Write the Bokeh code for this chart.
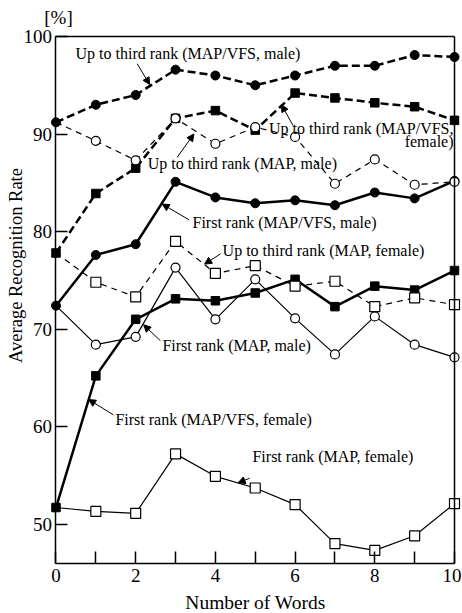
import math
from bokeh.plotting import figure
from bokeh.models import Range1d, FixedTicker, Label, Arrow, NormalHead, LinearAxis
from bokeh.embed import file_html
from bokeh.resources import INLINE

# ---- data ----
words = [0, 1, 2, 3, 4, 5, 6, 7, 8, 9, 10]
third_vfs_male = [91.2, 93.0, 94.0, 96.6, 96.0, 95.0, 96.0, 97.0, 97.0, 98.1, 97.9]
third_vfs_female = [77.8, 83.9, 86.5, 91.6, 92.4, 90.4, 94.2, 93.7, 93.2, 92.8, 91.4]
third_map_male = [91.2, 89.3, 87.3, 91.6, 89.0, 90.7, 89.7, 84.9, 87.4, 84.8, 85.1]
first_vfs_male = [72.4, 77.6, 78.7, 85.1, 83.5, 82.9, 83.2, 82.7, 84.0, 83.4, 85.2]
third_map_female = [77.8, 74.8, 73.3, 79.0, 75.7, 76.5, 74.4, 74.9, 72.3, 73.2, 72.5]
first_map_male = [72.4, 68.4, 69.2, 76.3, 71.0, 75.1, 71.1, 67.4, 71.3, 68.4, 67.1]
first_vfs_female = [51.7, 65.2, 71.0, 73.1, 72.9, 73.7, 75.1, 72.3, 74.4, 74.0, 76.0]
first_map_female = [51.7, 51.3, 51.1, 57.2, 54.9, 53.7, 52.0, 48.0, 47.3, 48.8, 52.1]

x_ticks = [0, 1, 2, 3, 4, 5, 6, 7, 8, 9, 10]
y_ticks = [50, 60, 70, 80, 90, 100]
X_MIN, X_MAX = 0, 10
Y_MIN, Y_MAX = 46, 100

FONT = "Liberation Serif"

# frame covers the whole canvas so that edge markers and outer texts are not clipped
p = figure(frame_width=461, frame_height=612, min_border=0,
           x_range=Range1d(-1.3927, 10.1757), y_range=Range1d(40.935, 103.6916),
           x_axis_location=None, y_axis_location=None,
           output_backend="svg", toolbar_location=None, background_fill_color="white")
p.grid.visible = False
p.outline_line_color = None


def style(ax):
    ax.axis_line_width = 1.5
    ax.axis_line_color = "black"
    ax.major_tick_line_width = 1.5
    ax.major_tick_line_color = "black"
    ax.major_tick_in = 12
    ax.major_tick_out = 0
    ax.minor_tick_in = 0
    ax.minor_tick_out = 0
    ax.major_label_text_font = FONT
    ax.major_label_text_font_size = "19px"
    ax.major_label_text_color = "black"


xax = LinearAxis(fixed_location=Y_MIN, bounds=(X_MIN, X_MAX), ticker=FixedTicker(ticks=x_ticks))
style(xax)
xax.major_label_overrides = {t: ("" if t % 2 else str(t)) for t in x_ticks}
xax.major_label_standoff = 6
p.add_layout(xax, "below")

yax = LinearAxis(fixed_location=X_MIN, bounds=(Y_MIN, Y_MAX), ticker=FixedTicker(ticks=y_ticks))
style(yax)
yax.major_label_standoff = 4
p.add_layout(yax, "left")

# top and right frame lines
tax = LinearAxis(fixed_location=Y_MAX, bounds=(X_MIN, X_MAX), ticker=FixedTicker(ticks=[]))
style(tax)
tax.major_tick_in = 0
p.add_layout(tax, "above")
rax = LinearAxis(fixed_location=X_MAX, bounds=(Y_MIN, Y_MAX), ticker=FixedTicker(ticks=[]))
style(rax)
rax.major_tick_in = 0
p.add_layout(rax, "right")

THICK = 2.5
THIN = 1.2

# lines
p.line(words, third_vfs_male, line_width=THICK, line_dash="8 4", color="black")
p.line(words, third_vfs_female, line_width=THICK, line_dash="8 4", color="black")
p.line(words, first_vfs_male, line_width=THICK, color="black")
p.line(words, first_vfs_female, line_width=THICK, color="black")
p.line(words, third_map_male, line_width=THIN, line_dash="6 5", color="black")
p.line(words, third_map_female, line_width=THIN, line_dash="6 5", color="black")
p.line(words, first_map_male, line_width=THIN, color="black")
p.line(words, first_map_female, line_width=THIN, color="black")

# filled markers
p.scatter(words, third_vfs_male, marker="circle", size=9, color="black")
p.scatter(words, first_vfs_male, marker="circle", size=9, color="black")
p.scatter(words, third_vfs_female, marker="square", size=8.5, color="black")
p.scatter(words, first_vfs_female, marker="square", size=8.5, color="black")

# open markers (x=0 is shared with the filled series)
p.scatter(words[1:], third_map_male[1:], marker="circle", size=9, fill_color="white",
          line_color="black", line_width=THIN)
p.scatter(words[1:], first_map_male[1:], marker="circle", size=9, fill_color="white",
          line_color="black", line_width=THIN)
p.scatter(words[1:], third_map_female[1:], marker="square", size=10, fill_color="white",
          line_color="black", line_width=THIN)
p.scatter(words[1:], first_map_female[1:], marker="square", size=10, fill_color="white",
          line_color="black", line_width=THIN)


def lab(text, x, y, align="left", size="16px", angle=0.0):
    p.add_layout(Label(x=x, y=y, text=text, text_font=FONT, text_font_size=size,
                       text_align=align, text_baseline="middle", text_color="black",
                       angle=angle))


def arr(x0, y0, x1, y1):
    p.add_layout(Arrow(end=NormalHead(size=7, fill_color="black", line_color="black", line_width=1),
                       x_start=x0, y_start=y0, x_end=x1, y_end=y1,
                       line_width=1, line_color="black"))


lab("Up to third rank (MAP/VFS, male)", 0.49, 98.25)
arr(2.04, 97.2, 2.35, 95.07)
lab("Up to third rank (MAP/VFS,", 9.975, 90.6, align="right")
lab("female)", 9.975, 89.25, align="right")
arr(5.95, 90.86, 5.66, 93.0)
lab("Up to third rank (MAP, male)", 2.30, 86.93)
arr(3.04, 87.6, 3.46, 90.0)
lab("First rank (MAP/VFS, male)", 3.425, 80.9)
arr(3.34, 81.2, 2.665, 82.82)
lab("Up to third rank (MAP, female)", 4.18, 78.03)
arr(4.13, 77.72, 3.73, 76.66)
lab("First rank (MAP, male)", 2.67, 68.28)
arr(2.62, 68.8, 2.20, 70.43)
lab("First rank (MAP/VFS, female)", 1.49, 60.68)
arr(1.44, 61.2, 0.82, 62.77)
lab("First rank (MAP, female)", 4.93, 56.98)
arr(4.86, 54.7, 4.57, 54.24)

# unit, axis titles
lab("[%]", 0.063, 101.9, align="center", size="19px")
lab("Average Recognition Rate", -1.016, 76.52, align="center", size="18.5px", angle=math.pi / 2)
lab("Number of Words", 5.006, 41.96, align="center", size="19.5px")

open("out.html", "w").write(file_html(p, INLINE))
